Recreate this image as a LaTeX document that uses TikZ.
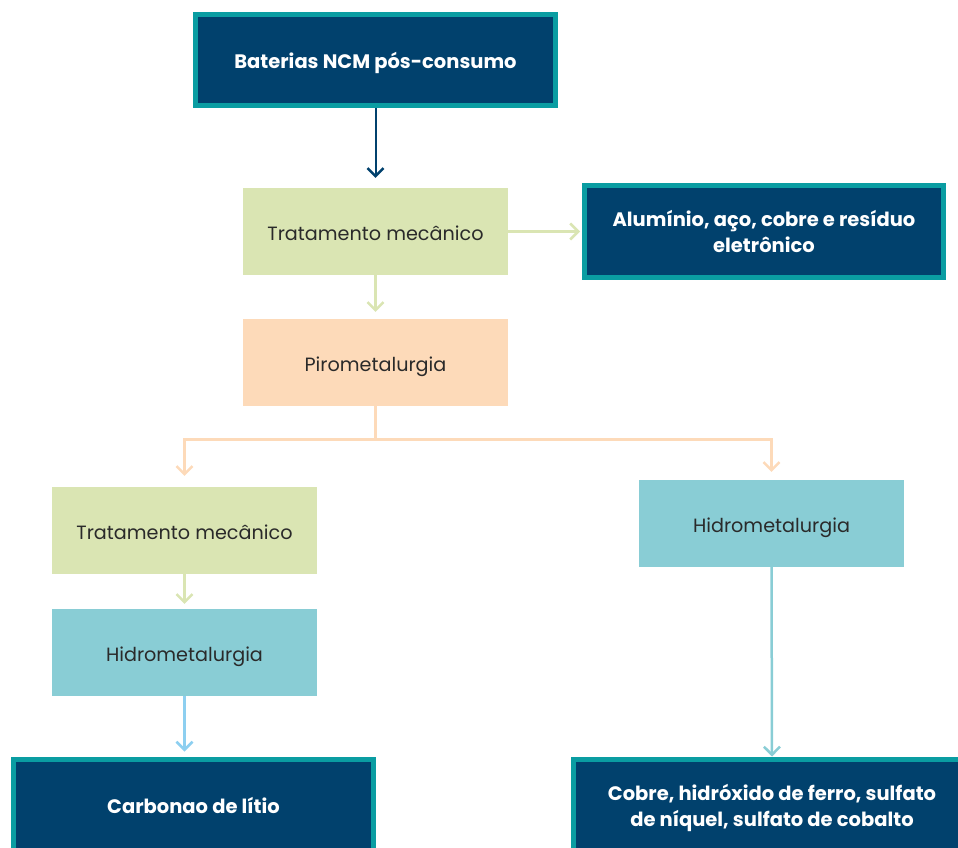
\documentclass[tikz,border=0pt]{standalone}
\usepackage{fontspec}
\setmainfont{Poppins}
\usetikzlibrary{arrows.meta}

\definecolor{navy}{HTML}{01416D}
\definecolor{tealrim}{HTML}{0A9DA2}
\definecolor{mechgreen}{HTML}{DAE5B3}
\definecolor{pyropeach}{HTML}{FDDAB9}
\definecolor{hydroblue}{HTML}{89CDD5}
\definecolor{skyarrow}{HTML}{8DCFF0}
\definecolor{bodytext}{HTML}{2A2A2A}

\tikzset{
  product/.style={draw=tealrim, fill=navy, line width=5pt, text=white,
    font=\bfseries\fontsize{19.5}{26}\selectfont, align=center, inner sep=0pt,
    text depth=0pt},
  stage/.style={minimum width=265pt, minimum height=87pt, inner sep=0pt,
    text=bodytext, font=\fontsize{19.2}{24}\selectfont,
    text height=17pt, text depth=0pt},
  flow/.style={line width=2.5pt, -{Straight Barb[length=8pt,width=16pt,line width=2.5pt]}},
}

\begin{document}
\begin{tikzpicture}[x=1pt,y=-1pt]
  \useasboundingbox (0,0) rectangle (958,848);
  \clip (0,0) rectangle (958,848);

  % outputs (dark boxes with teal rim)
  \node[product, minimum width=360pt, minimum height=91pt, text height=17.5pt] (src) at (375.5,60) {Baterias NCM pós-consumo};
  \node[product, minimum width=359pt, minimum height=92pt] (scrap) at (764,231.5) {Alumínio, aço, cobre e resíduo\\eletrônico};
  \node[product, minimum width=360pt, minimum height=92pt, text height=17.5pt] (li) at (193.5,805) {Carbonao de lítio};
  \node[product, minimum width=397pt, minimum height=92pt, text depth=-2pt] (salts) at (772,805) {Cobre, hidróxido de ferro, sulfato\\de níquel, sulfato de cobalto};

  % process stages
  \node[stage, fill=mechgreen] (mech1) at (375.5,231.5) {Tratamento mecânico};
  \node[stage, fill=pyropeach] (pyro) at (375.5,362.5) {Pirometalurgia};
  \node[stage, fill=mechgreen] (mech2) at (184.5,530.5) {Tratamento mecânico};
  \node[stage, fill=hydroblue] (hydro1) at (184.5,652.5) {Hidrometalurgia};
  \node[stage, fill=hydroblue] (hydro2) at (771.5,523.5) {Hidrometalurgia};

  % connectors
  \draw[flow, navy, line width=2pt, shorten >=10pt] (src.south) -- (mech1.north);
  \draw[flow, mechgreen, shorten >=2pt] (mech1.east) -- (scrap.west);
  \draw[flow, mechgreen, shorten >=7pt] (mech1.south) -- (pyro.north);

  \coordinate (split) at (375.5,439);
  \draw[line width=3pt, pyropeach] (pyro.south) -- (split);
  \draw[flow, line width=3pt, pyropeach, shorten >=11pt] (split) -| (mech2.north);
  \draw[flow, line width=3pt, pyropeach, shorten >=8pt] (split) -| (hydro2.north);

  \draw[flow, mechgreen, shorten >=5pt] (mech2.south) -- (hydro1.north);
  \draw[flow, skyarrow, shorten >=5pt] (hydro1.south) -- (hydro1.south |- li.north);
  \draw[flow, hydroblue] (hydro2.south) -- (salts.north);
\end{tikzpicture}
\end{document}
